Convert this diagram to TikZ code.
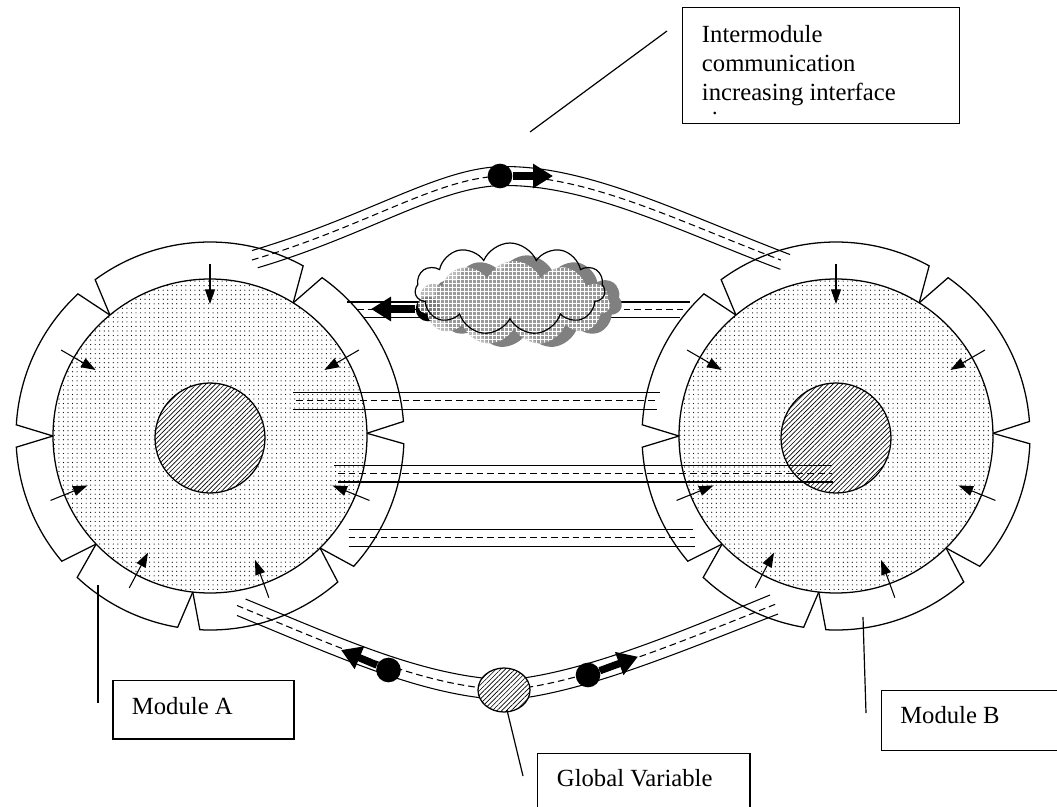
\documentclass[tikz,border=0pt]{standalone}
\usepackage{fontspec}
\setmainfont{Liberation Serif}
\usetikzlibrary{arrows.meta,patterns.meta,shapes.symbols,shapes.geometric}

% one module: dotted body, hatched core, ring of interface segments, inward arrows
\newcommand\drawmodule{%
  \fill[pattern={Dots[distance=3.4pt,radius=0.45pt]}] (0,0) circle[radius=117.75pt];
  \draw[outline] (0,0) circle[radius=117.75pt];
  \draw[outline, preaction={fill=white}, pattern={Lines[angle=45,distance=2.5pt,line width=0.5pt]}] (0,-2) circle[radius=41.25pt];
  \foreach \a/\b in {1/58,58/129.6,129.6/180,180/223.5,223.5/263.7,263.7/314.5,314.5/361}
    \draw[seg] (\a:157) -- ({\a+3.3}:194) arc[start angle={\a+3.3}, end angle={\b-3.3}, radius=145.5pt] -- (\b:157);
  \foreach \t in {90,30,150,202,242,290,338}
    \draw[inarrow] (\t:172) -- (\t:132);
}

\begin{document}
\begin{tikzpicture}[x=0.75pt,y=-0.75pt,
  outline/.style={line width=0.95pt},
  seg/.style={line width=0.95pt, line join=miter},
  rail/.style={line width=0.8pt},
  railmid/.style={line width=0.8pt, dash pattern=on 5pt off 3pt},
  inarrow/.style={line width=0.8pt, -{Triangle[length=11pt,width=7.5pt]}},
  blob/.style={circle, fill=black, inner sep=0pt, minimum size=18.5pt},
  flow/.style={line width=5.5pt, -{Triangle[length=15pt,width=17.5pt]}},
  puff/.style={cloud, cloud puffs=11, cloud puff arc=135, aspect=2.1, inner sep=0pt},
  gvar/.style={ellipse, draw, line width=0.95pt, inner sep=0pt, minimum width=39pt, minimum height=33pt,
    preaction={fill=white}, pattern={Lines[angle=45,distance=2.5pt,line width=0.5pt]}},
  labelbox/.style={draw, line width=1.1pt, inner sep=0pt, anchor=north west},
  lbl/.style={font=\fontsize{18.5}{21.7}\selectfont, inner sep=0pt, anchor=base west},
  leader/.style={line width=0.9pt}
]
\useasboundingbox[fill=white] (0,0) rectangle (1057,807);
\clip (0,0) rectangle (1057,807);

% ---- modules ----
\begin{scope}[shift={(210,436)}, x=0.75pt, y=0.75pt]
  \drawmodule
\end{scope}
\begin{scope}[shift={(836,436)}, x=0.75pt, y=0.75pt]
  \drawmodule
\end{scope}

% ---- straight channels ----
\draw[rail] (293,392.5) -- (660,392.5);
\draw[railmid] (296,400.7) -- (658,400.7);
\draw[rail] (293,409.3) -- (657,409.3);

\draw[rail] (334,465.5) -- (832,465.5);
\draw[railmid] (338,473.3) -- (832,473.3);
\draw[rail] (338,482) -- (833,482);

\draw[rail] (348.5,529.5) -- (693,529.5);
\draw[railmid] (348.5,537.3) -- (695,537.3);
\draw[rail] (348.5,546.7) -- (695,546.7);

% ---- channel behind the cloud ----
\draw[rail] (347,302) -- (690,302);
\draw[railmid] (357,309.5) -- (683,309.5);
\draw[rail] (363,317.5) -- (680,317.5);

\node[puff, fill=black!50, minimum width=142.5pt, minimum height=70pt] (cshadow) at (527,302) {};
\node[blob] (d2) at (428,309) {};
\coordinate (t2) at (371,309);
\draw[flow] (d2) -- (t2);
\node[puff, fill=black!36, fill opacity=0.75, minimum width=144pt, minimum height=63pt] (cfill) at (514,303) {};
\node[puff, pattern={Hatch[angle=0,distance=3pt,line width=0.45pt]}, pattern color=white,
      minimum width=144pt, minimum height=63pt] (cgrid) at (514,303) {};
\node[puff, draw, line width=0.9pt, minimum width=142.5pt, minimum height=69pt] (cloud) at (510,289) {};

% ---- upper arched channel ----
\draw[rail, yshift=7.1pt] (252,260) .. controls (370,225) and (440,176) .. (505,176) .. controls (590,176) and (680,222) .. (790,264);
\draw[railmid, shorten >=4pt] (252,260) .. controls (370,225) and (440,176) .. (505,176) .. controls (590,176) and (680,222) .. (786,262);
\draw[rail, yshift=-7.1pt, shorten <=4.5pt, shorten >=4.5pt] (252,260) .. controls (370,225) and (440,176) .. (505,176) .. controls (590,176) and (680,222) .. (786,262);
\node[blob] (d1) at (500,176) {};
\coordinate (t1) at (553,176);
\draw[flow] (d1) -- (t1);

% ---- lower channel through the global variable ----
\draw[rail, yshift=7.5pt, shorten <=7pt] (237,605.5) .. controls (340,648) and (415,682) .. (492,689);
\draw[railmid] (237,605.5) .. controls (340,648) and (415,682) .. (492,689);
\draw[rail, yshift=-7.5pt] (237,605.5) .. controls (340,648) and (415,682) .. (492,689);

\draw[rail, yshift=7.5pt] (516,689) .. controls (590,680) and (680,642) .. (770,605);
\draw[railmid] (516,689) .. controls (590,680) and (680,642) .. (776,604);
\draw[rail, yshift=-7.5pt] (516,689) .. controls (590,680) and (680,642) .. (778,604);

\node[blob] (d3) at (388.5,670) {};
\coordinate (t3) at (341,650);
\draw[flow] (d3) -- (t3);
\node[blob] (d4) at (588,675) {};
\coordinate (t4) at (638,656.7);
\draw[flow] (d4) -- (t4);

\node[gvar] (gv) at (504,690) {};

% ---- labels ----
\node[labelbox, minimum width=207.75pt, minimum height=86.8pt] (topbox) at (682,7) {};
\node[lbl] (l1) at (701.7,42.3) {Intermodule};
\node[lbl] (l2) at (701.7,71.2) {communication};
\node[lbl] (l3) at (701.7,100) {increasing interface};
\begin{scope}
  \clip (684,9) rectangle (957,115);
  \node[lbl] (l4) at (701.7,128.9) {size};
\end{scope}
\coordinate (p1) at (530,132);
\coordinate (p2) at (667,31);
\draw[leader] (p1) -- (p2);

\node[labelbox, minimum width=135.75pt, minimum height=43.7pt] (boxA) at (112.3,680) {};
\node[lbl] (la) at (131.7,714) {Module A};
\coordinate (a1) at (98,585);
\coordinate (a2) at (98,703);
\draw[leader] (a1) -- (a2);

\node[labelbox, minimum width=140pt, minimum height=45pt] (boxB) at (881,690) {};
\node[lbl] (lb) at (900,723) {Module B};
\coordinate (b1) at (863,617);
\coordinate (b2) at (866,713);
\draw[leader] (b1) -- (b2);

\node[labelbox, minimum width=159.5pt, minimum height=52.5pt] (boxG) at (536.7,752.7) {};
\node[lbl] (lg) at (556.7,786) {Global Variable};
\coordinate (g1) at (507,710);
\coordinate (g2) at (523,776);
\draw[leader] (g1) -- (g2);
\end{tikzpicture}
\end{document}
